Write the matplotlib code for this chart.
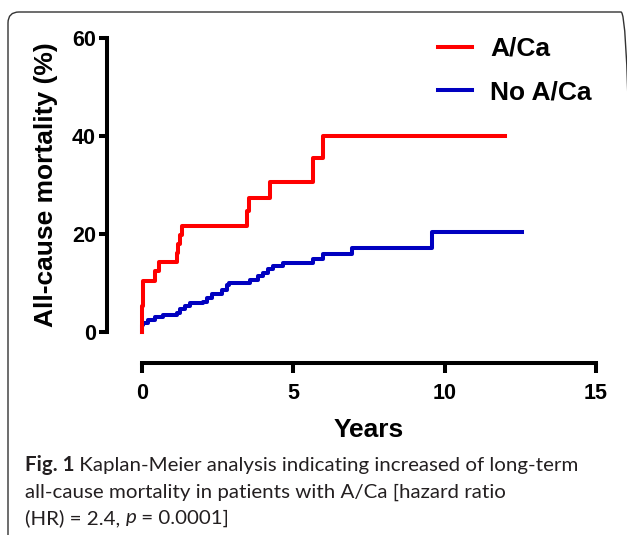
import numpy as np
import matplotlib
matplotlib.use('Agg')
import matplotlib.pyplot as plt
from matplotlib.patches import FancyBboxPatch
from matplotlib.transforms import IdentityTransform

# %% data
red_years = [0, 0.02, 0.05, 0.45, 0.56, 1.15, 1.21, 1.27, 1.32, 3.49, 3.54, 4.23, 5.64, 5.97, 12.0]
red_mort = [0, 5.3, 10.5, 12.5, 14.2, 16.2, 18.0, 19.8, 21.6, 24.8, 27.3, 30.7, 35.5, 40.0, 40.0]

blue_years = [0, 0.02, 0.05, 0.22, 0.44, 0.71, 1.15, 1.26, 1.43, 1.6, 2.03, 2.14, 2.31, 2.64,
              2.8, 2.89, 3.57, 3.85, 4.01, 4.18, 4.34, 4.67, 5.64, 5.99, 6.93, 9.59, 12.54]
blue_mort = [0, 1.5, 1.9, 2.5, 3.0, 3.4, 3.9, 4.7, 5.4, 5.9, 6.2, 6.9, 7.8, 8.6,
             9.5, 10.1, 10.7, 11.4, 12.1, 12.8, 13.5, 14.1, 15.0, 15.9, 17.1, 20.4, 20.4]

labels = ['A/Ca', 'No A/Ca']
xticks = [0, 5, 10, 15]
yticks = [0, 20, 40, 60]

# %% figure
plt.rcParams['font.family'] = ['Liberation Sans', 'DejaVu Sans']
fig = plt.figure(figsize=(6.27, 5.35), dpi=100)
ax = fig.add_axes([0.226, 0.3794, 0.7246, 0.5495])

ax.step(blue_years, blue_mort, where='post', color='#0000C0', lw=2.9, clip_on=False,
        label=labels[1])
ax.step(red_years, red_mort, where='post', color='#FF0000', lw=2.9, clip_on=False,
        label=labels[0])

ax.set_xlim(0, 15)
ax.set_ylim(0, 60)
ax.set_xticks(xticks)
ax.set_yticks(yticks)
for s in ['top', 'right']:
    ax.spines[s].set_visible(False)
for s in ['left', 'bottom']:
    ax.spines[s].set_linewidth(2.9)
ax.spines['left'].set_position(('outward', 25))
ax.spines['bottom'].set_position(('outward', 22.3))
ax.tick_params(axis='x', length=7.5, width=2.9, pad=7, labelsize=15.5)
ax.tick_params(axis='y', length=6, width=2.9, pad=2, labelsize=15.5)
for t in ax.get_xticklabels() + ax.get_yticklabels():
    t.set_fontweight('bold')

ax.set_ylabel('All-cause mortality (%)', fontsize=19, fontweight='bold', va='center')
ax.yaxis.set_label_coords(-0.21, 0.5)
ax.set_xlabel('Years', fontsize=19, fontweight='bold', va='center')
ax.xaxis.set_label_coords(0.5, -0.333)

h, l = ax.get_legend_handles_labels()
leg = ax.legend(h[::-1], l[::-1], loc='center left', bbox_to_anchor=(0.6986, 0.868),
                bbox_transform=fig.transFigure, frameon=False, handlelength=1.29,
                handletextpad=0.68, labelspacing=0.73, borderpad=0, borderaxespad=0,
                prop={'size': 19, 'weight': 'bold'})

# rounded frame, cut by the picture edges
frame = FancyBboxPatch((8, -30), 624, 553, boxstyle='round,pad=0,rounding_size=11',
                       transform=IdentityTransform(), fill=False, ec='#333333', lw=1.0)
fig.patches.append(frame)

# %% caption
cap_font = ['Lato', 'DejaVu Sans']
cap_lines = [
    [('Fig. 1', 'bold', 'normal'),
     (' Kaplan-Meier analysis indicating increased of long-term', 'normal', 'normal')],
    [('all-cause mortality in patients with A/Ca [hazard ratio', 'normal', 'normal')],
    [('(HR) = 2.4, ', 'normal', 'normal'), ('p', 'normal', 'italic'),
     (' = 0.0001]', 'normal', 'normal')],
]
cap_y = [465, 492, 518]
r = fig.canvas.get_renderer()


def draw_line(runs, ypix, size):
    x = 25
    made = []
    for txt, w, st in runs:
        t = fig.text(x / 627, 1 - ypix / 535, txt, fontsize=size, fontweight=w,
                     fontstyle=st, family=cap_font, color='#231F20', va='center', ha='left')
        x += t.get_window_extent(renderer=r).width
        made.append(t)
    return x, made


# size the caption so the first line ends where it does in the figure
end, tmp = draw_line(cap_lines[0], cap_y[0], 12)
for t in tmp:
    t.remove()
cap_size = 12 * (577 - 25) / (end - 25)
for runs, ypix in zip(cap_lines, cap_y):
    draw_line(runs, ypix, cap_size)

fig.savefig('out.png', dpi=100)
